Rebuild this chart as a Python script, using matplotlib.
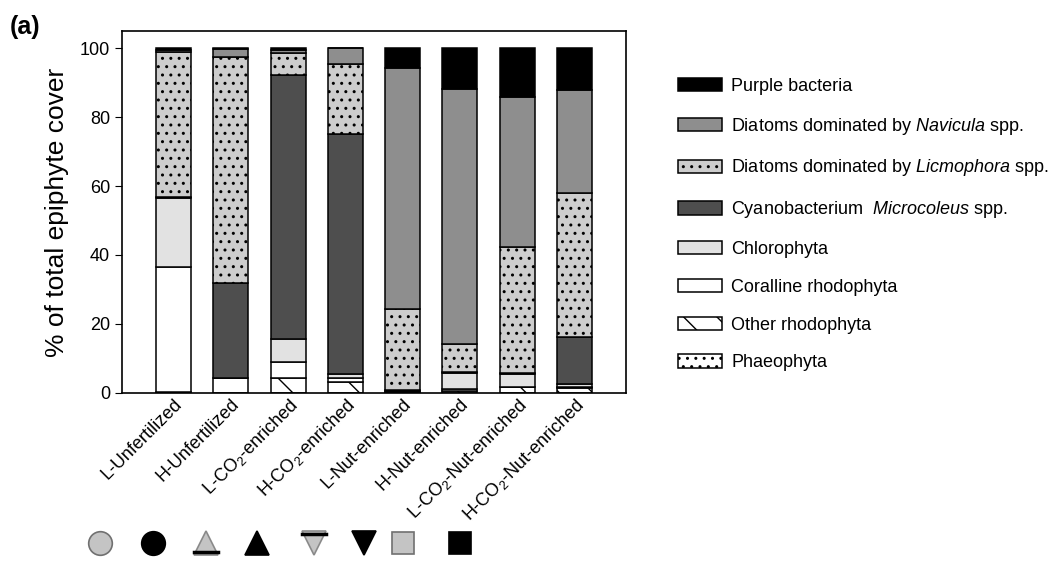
import matplotlib
matplotlib.use("Agg")
import matplotlib.pyplot as plt
from matplotlib.patches import Patch
import numpy as np

plt.rcParams['font.family'] = ['Liberation Sans', 'DejaVu Sans']
plt.rcParams['mathtext.fontset'] = 'custom'
plt.rcParams['mathtext.rm'] = 'Liberation Sans'
plt.rcParams['mathtext.it'] = 'Liberation Sans:italic'
plt.rcParams['hatch.linewidth'] = 1.0

# treatments (x axis)
treatments = ['L-Unfertilized', 'H-Unfertilized', 'L-CO$_2$-enriched', 'H-CO$_2$-enriched',
              'L-Nut-enriched', 'H-Nut-enriched', 'L-CO$_2$-Nut-enriched', 'H-CO$_2$-Nut-enriched']

# % cover per group, stacked bottom -> top
phaeophyta = [0.0, 0.0, 0.0, 0.0, 0.1, 0.0, 0.0, 0.0]
other_rhodophyta = [0.3, 0.0, 4.4, 3.2, 0.3, 0.5, 1.6, 1.5]
coralline = [36.3, 4.2, 4.6, 1.0, 0.2, 0.6, 0.0, 0.3]
chlorophyta = [19.8, 0.2, 6.5, 1.2, 0.2, 4.7, 3.7, 0.7]
microcoleus = [0.5, 27.5, 76.9, 69.7, 0.1, 0.2, 0.4, 13.8]
licmophora = [42.1, 65.7, 6.3, 20.3, 23.3, 8.1, 36.7, 41.8]
navicula = [0.6, 2.2, 0.7, 4.6, 70.0, 74.0, 43.4, 29.8]
purple_bacteria = [0.4, 0.2, 0.6, 0.0, 5.8, 11.9, 14.2, 12.1]

groups = [
    ('Phaeophyta', phaeophyta, 'white', '..'),
    ('Other rhodophyta', other_rhodophyta, 'white', '\\'),
    ('Coralline rhodophyta', coralline, 'white', None),
    ('Chlorophyta', chlorophyta, '#e2e2e2', None),
    ('Cyanobacterium  $\\mathit{Microcoleus}$ spp.', microcoleus, '#4e4e4e', None),
    ('Diatoms dominated by $\\mathit{Licmophora}$ spp.', licmophora, '#cdcdcd', '..'),
    ('Diatoms dominated by $\\mathit{Navicula}$ spp.', navicula, '#8e8e8e', None),
    ('Purple bacteria', purple_bacteria, 'black', None),
]

fig = plt.figure(figsize=(10.6, 5.61), dpi=100)
ax = fig.add_axes([0.1151, 0.300, 0.4755, 0.6439])

x = np.arange(len(treatments))
bottom = np.zeros(len(treatments))
handles = []
for label, vals, color, hatch in groups:
    vals = np.array(vals)
    ax.bar(x, vals, width=0.61, bottom=bottom, color=color, edgecolor='black',
           linewidth=1.1, hatch=hatch)
    bottom += vals
    handles.append(Patch(facecolor=color, edgecolor='black', linewidth=1.1,
                         hatch=hatch, label=label))

ax.set_xlim(-0.9, 7.9)
ax.set_ylim(0, 104.9)
ax.set_yticks([0, 20, 40, 60, 80, 100])
ax.set_xticks(x)
ax.set_xticklabels(treatments, rotation=45, ha='right', rotation_mode='anchor',
                   fontsize=13)
ax.tick_params(axis='x', length=0, pad=2)
ax.tick_params(axis='y', length=5, labelsize=13)
for sp in ax.spines.values():
    sp.set_linewidth(1.2)
ax.set_ylabel('% of total epiphyte cover', fontsize=19, labelpad=8)

fig.text(0.009, 0.94, '(a)', fontsize=18, fontweight='bold')

# legend, top entry is the top of the stack
fig.legend(handles=handles[::-1], loc='upper left', bbox_to_anchor=(0.6245, 0.89),
           frameon=False, fontsize=13, handlelength=2.4, handleheight=0.75,
           labelspacing=1.15, handletextpad=0.55)

# treatment symbols under the axis labels
sym = fig.add_axes([0, 0, 1, 1])
sym.set_xlim(0, 1060)
sym.set_ylim(561, 0)
sym.axis('off')
symbol_x = [100, 153, 206, 257, 314, 364, 403, 460]
symbol_y = 543
light = '#c4c4c4'
specs = [('o', light, '#707070', 17), ('o', 'black', 'black', 17),
         ('^', light, '#8a8a8a', 17), ('^', 'black', 'black', 17),
         ('v', light, '#8a8a8a', 17), ('v', 'black', 'black', 17),
         ('s', light, '#707070', 16), ('s', 'black', 'black', 16)]
for xs, (m, fc, ec, ms) in zip(symbol_x, specs):
    sym.plot(xs, symbol_y, marker=m, ms=ms, mfc=fc, mec=ec, mew=1.2, ls='none')
sym.plot([symbol_x[2] - 12, symbol_x[2] + 12], [symbol_y + 9, symbol_y + 9], color='black', lw=2.5)
sym.plot([symbol_x[4] - 12, symbol_x[4] + 12], [symbol_y - 9, symbol_y - 9], color='black', lw=2.5)

fig.savefig('out.png', dpi=100)
